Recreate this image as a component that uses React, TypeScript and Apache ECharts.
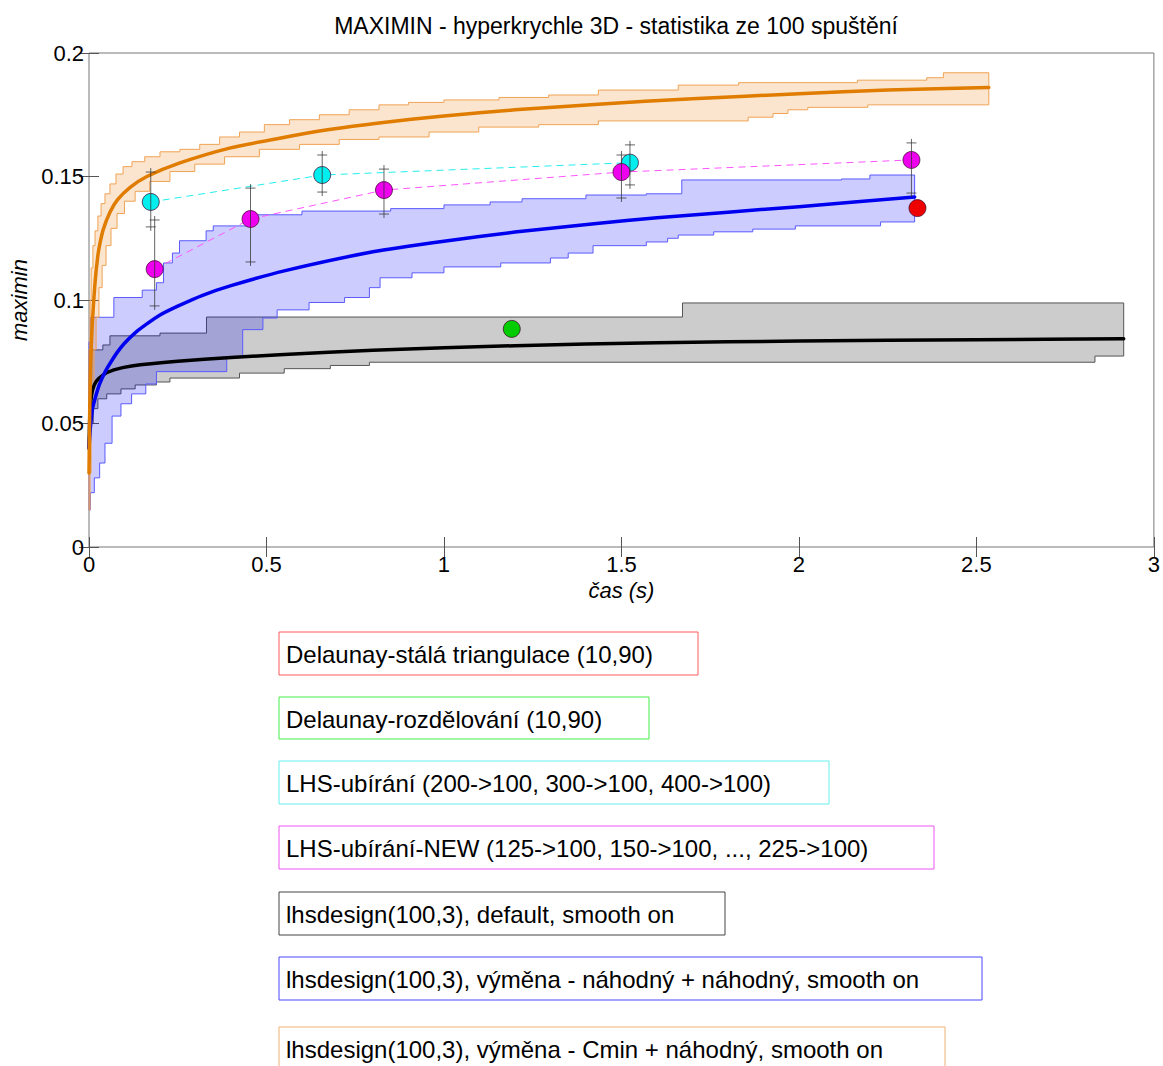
import React, { useEffect, useRef } from "react";
import * as echarts from "echarts";

const FONT = '"Liberation Sans", Arial, Helvetica, sans-serif';

const titleText = "MAXIMIN - hyperkrychle 3D - statistika ze 100 spuštění";
const xName = "čas (s)";
const yName = "maximin";

// legend labels
const legendLabels = [
  "Delaunay-stálá triangulace (10,90)",
  "Delaunay-rozdělování (10,90)",
  "LHS-ubírání (200->100, 300->100, 400->100)",
  "LHS-ubírání-NEW (125->100, 150->100, ..., 225->100)",
  "lhsdesign(100,3), default, smooth on",
  "lhsdesign(100,3), výměna - náhodný + náhodný, smooth on",
  "lhsdesign(100,3), výměna - Cmin + náhodný, smooth on",
];

// ---- orange: lhsdesign, výměna Cmin + náhodný ----
const orangeUpperX = [0, 0.003, 0.006, 0.011, 0.017, 0.025, 0.034, 0.045, 0.059, 0.076, 0.096, 0.121, 0.157, 0.2, 0.256, 0.312, 0.368, 0.424, 0.494, 0.565, 0.649, 0.733, 0.817, 0.9, 1.0, 1.155, 1.295, 1.435, 1.66, 1.83, 2.165, 2.36, 2.407];
const orangeUpperY = [0.08, 0.1, 0.113, 0.122, 0.128, 0.134, 0.139, 0.143, 0.147, 0.151, 0.154, 0.156, 0.158, 0.16, 0.161, 0.163, 0.166, 0.168, 0.171, 0.173, 0.175, 0.177, 0.179, 0.18, 0.181, 0.182, 0.183, 0.185, 0.187, 0.188, 0.189, 0.19, 0.192];
const orangeLowerX = [0, 0.003, 0.006, 0.008, 0.014, 0.02, 0.028, 0.037, 0.048, 0.062, 0.079, 0.1, 0.13, 0.171, 0.228, 0.298, 0.382, 0.48, 0.593, 0.705, 0.817, 0.958, 1.098, 1.267, 1.435, 1.857, 1.927, 1.969, 2.025, 2.194];
const orangeLowerY = [0.015, 0.03, 0.05, 0.065, 0.08, 0.093, 0.105, 0.114, 0.122, 0.129, 0.135, 0.14, 0.144, 0.148, 0.152, 0.155, 0.158, 0.161, 0.163, 0.165, 0.166, 0.168, 0.17, 0.171, 0.1725, 0.174, 0.1755, 0.177, 0.178, 0.179];
const orangeEnd = 2.535;
const orangeMeanX = [0, 0.002, 0.005, 0.009, 0.017, 0.025, 0.031, 0.04, 0.059, 0.08, 0.115, 0.163, 0.256, 0.396, 0.537, 0.677, 0.817, 1.0, 1.2, 1.435, 1.7, 2.0, 2.25, 2.535];
const orangeMeanY = [0.03, 0.055, 0.075, 0.09, 0.107, 0.118, 0.123, 0.1285, 0.1355, 0.1405, 0.1455, 0.15, 0.1555, 0.1615, 0.1655, 0.169, 0.1717, 0.1745, 0.177, 0.1793, 0.1815, 0.1835, 0.185, 0.186];

// ---- black/gray: lhsdesign default ----
const grayUpperX = [0, 0.039, 0.059, 0.2, 0.331, 1.672];
const grayUpperY = [0.0798, 0.0818, 0.0855, 0.0866, 0.0931, 0.0988];
const grayLowerX = [0, 0.004, 0.012, 0.025, 0.05, 0.09, 0.13, 0.19, 0.228, 0.424, 0.55, 0.68, 0.79, 2.834];
const grayLowerY = [0.035, 0.05, 0.056, 0.06, 0.062, 0.064, 0.0656, 0.0668, 0.0684, 0.0704, 0.0722, 0.0735, 0.0748, 0.0773];
const grayEnd = 2.915;
const blackMeanX = [0, 0.002, 0.005, 0.01, 0.02, 0.04, 0.07, 0.12, 0.25, 0.4, 0.55, 0.8, 1.2, 1.6, 2.0, 2.5, 2.915];
const blackMeanY = [0.04, 0.052, 0.059, 0.0635, 0.067, 0.0697, 0.0717, 0.0733, 0.0752, 0.0767, 0.0779, 0.0797, 0.0815, 0.0827, 0.0834, 0.0839, 0.0843];

// ---- blue: lhsdesign, výměna náhodný + náhodný ----
const blueUpperX = [0, 0.004, 0.07, 0.15, 0.19, 0.21, 0.235, 0.255, 0.33, 0.35, 0.455, 0.6, 0.85, 1.0, 1.13, 1.22, 1.4, 1.57, 1.67, 2.12, 2.2];
const blueUpperY = [0.083, 0.093, 0.101, 0.104, 0.107, 0.115, 0.119, 0.124, 0.128, 0.13, 0.1345, 0.136, 0.137, 0.1385, 0.1397, 0.141, 0.1425, 0.143, 0.1486, 0.149, 0.1506];
const blueLowerX = [0, 0.004, 0.015, 0.03, 0.045, 0.065, 0.09, 0.12, 0.16, 0.19, 0.388, 0.433, 0.49, 0.53, 0.62, 0.72, 0.79, 0.82, 0.91, 1.0, 1.16, 1.3, 1.35, 1.42, 1.57, 1.63, 1.66, 1.76, 1.87, 1.99, 2.23];
const blueLowerY = [0.015, 0.022, 0.028, 0.034, 0.042, 0.053, 0.058, 0.062, 0.066, 0.071, 0.077, 0.088, 0.0927, 0.096, 0.099, 0.101, 0.105, 0.109, 0.111, 0.1134, 0.115, 0.117, 0.119, 0.122, 0.1235, 0.125, 0.1263, 0.1276, 0.1287, 0.13, 0.1316];
const blueEnd = 2.326;
const blueMeanX = [0, 0.003, 0.01, 0.02, 0.03, 0.045, 0.06, 0.08, 0.1, 0.13, 0.16, 0.2, 0.25, 0.32, 0.4, 0.55, 0.8, 1.0, 1.2, 1.43, 1.6, 2.0, 2.326];
const blueMeanY = [0.04, 0.047, 0.056, 0.0615, 0.066, 0.0708, 0.0745, 0.0789, 0.0825, 0.0867, 0.09, 0.0939, 0.0975, 0.1019, 0.1058, 0.1118, 0.1195, 0.1238, 0.1275, 0.131, 0.1333, 0.1378, 0.1417];

// ---- point series ----
const redX = [2.334];
const redY = [0.1372];
const greenX = [1.191];
const greenY = [0.0883];
const cyanX = [0.174, 0.657, 1.524];
const cyanY = [0.1397, 0.1506, 0.1556];
const cyanLow = [0.1296, 0.1437, 0.1466];
const cyanHigh = [0.1518, 0.1587, 0.1628];
const magentaX = [0.185, 0.455, 0.831, 1.5, 2.317];
const magentaY = [0.1125, 0.1328, 0.1445, 0.1518, 0.1567];
const magentaLow = [0.0976, 0.1154, 0.1348, 0.1413, 0.1433];
const magentaHigh = [0.1324, 0.1453, 0.153, 0.1587, 0.1636];

const zip = (xs: number[], ys: number[]) => xs.map((x, i) => [x, ys[i]]);

function bandSeries(name: string, ux: number[], uy: number[], lx: number[], ly: number[], endX: number, fill: string, stroke: string) {
  return {
    type: "custom",
    name,
    z: 1,
    silent: true,
    data: [[0, 0]],
    renderItem: (_params: any, api: any) => {
      const pts: number[][] = [];
      for (let i = 0; i < ux.length; i++) {
        const x1 = i < ux.length - 1 ? ux[i + 1] : endX;
        pts.push(api.coord([ux[i], uy[i]]));
        pts.push(api.coord([x1, uy[i]]));
      }
      for (let i = lx.length - 1; i >= 0; i--) {
        const x1 = i < lx.length - 1 ? lx[i + 1] : endX;
        pts.push(api.coord([x1, ly[i]]));
        pts.push(api.coord([lx[i], ly[i]]));
      }
      return { type: "polygon", shape: { points: pts }, style: { fill, stroke, lineWidth: 1 } };
    },
  };
}

function meanSeries(name: string, xs: number[], ys: number[], color: string) {
  return {
    type: "line",
    name,
    z: 3,
    data: zip(xs, ys),
    showSymbol: false,
    smooth: 0.2,
    lineStyle: { color, width: 3.5, join: "round", cap: "round" },
    silent: true,
  };
}

function errorSeries(name: string, xs: number[], lows: number[], highs: number[]) {
  return {
    type: "custom",
    name,
    z: 7,
    silent: true,
    data: xs.map((x, i) => [x, lows[i], highs[i]]),
    encode: { x: 0, y: [1, 2] },
    renderItem: (_params: any, api: any) => {
      const x = api.value(0);
      const pLo = api.coord([x, api.value(1)]);
      const pHi = api.coord([x, api.value(2)]);
      const cap = 5;
      const ext = 4;
      const style = { stroke: "rgba(50,50,50,0.75)", lineWidth: 1 };
      return {
        type: "group",
        children: [
          { type: "line", shape: { x1: pHi[0], y1: pHi[1] - ext, x2: pLo[0], y2: pLo[1] + ext }, style },
          { type: "line", shape: { x1: pHi[0] - cap, y1: pHi[1], x2: pHi[0] + cap, y2: pHi[1] }, style },
          { type: "line", shape: { x1: pLo[0] - cap, y1: pLo[1], x2: pLo[0] + cap, y2: pLo[1] }, style },
        ],
      };
    },
  };
}

function pointSeries(name: string, xs: number[], ys: number[], color: string) {
  return {
    type: "scatter",
    name,
    z: 6,
    data: zip(xs, ys),
    symbol: "circle",
    symbolSize: 17,
    itemStyle: { color, borderColor: "rgba(60,0,40,0.7)", borderWidth: 1, opacity: 1 },
  };
}

function dashedSeries(name: string, xs: number[], ys: number[], color: string) {
  return {
    type: "line",
    name,
    z: 4,
    data: zip(xs, ys),
    showSymbol: false,
    lineStyle: { color, width: 1, type: [7, 5] },
    silent: true,
  };
}

// legend box geometry
const legendBoxes = [
  { y: 632, w: 419, h: 43, stroke: "#ff5a5a" },
  { y: 697, w: 370, h: 42, stroke: "#44ee44" },
  { y: 761, w: 550, h: 43, stroke: "#66eeee" },
  { y: 826, w: 655, h: 43, stroke: "#ee55ee" },
  { y: 892, w: 446, h: 43, stroke: "#444444" },
  { y: 957, w: 703, h: 43, stroke: "#4848ff" },
  { y: 1027, w: 666, h: 60, stroke: "#f0b070" },
];

export default function App() {
  const ref = useRef<HTMLDivElement>(null);
  useEffect(() => {
    if (!ref.current) return;
    const chart = echarts.init(ref.current, undefined, { renderer: "svg" });
    const axisLabel = { fontSize: 22, color: "#000", fontFamily: FONT };
    const tick = { inside: true, length: 10, lineStyle: { color: "#555", width: 1 } };
    const legendGraphics: any[] = [];
    legendBoxes.forEach((b, i) => {
      legendGraphics.push({
        type: "rect",
        shape: { x: 279, y: b.y, width: b.w, height: b.h },
        style: { fill: "#fff", stroke: b.stroke, lineWidth: 1 },
      });
      legendGraphics.push({
        type: "text",
        x: 286,
        y: b.y + 22,
        style: { text: legendLabels[i], fontSize: 24, fontFamily: FONT, fill: "#000", verticalAlign: "middle", align: "left" },
      });
    });
    chart.setOption({
      animation: false,
      backgroundColor: "#fff",
      grid: { left: 89, top: 53, width: 1068, height: 494, show: true, borderColor: "#777", borderWidth: 1, backgroundColor: "#fff" },
      xAxis: [
        {
          type: "value", min: 0, max: 3, interval: 0.5, position: "bottom",
          axisLine: { show: false }, axisTick: tick, splitLine: { show: false },
          axisLabel: { ...axisLabel, margin: 6 },
          name: xName, nameLocation: "middle", nameGap: 32,
          nameTextStyle: { fontSize: 22, fontStyle: "italic", fontFamily: FONT, color: "#000" },
        },
        {
          type: "value", min: 0, max: 3, interval: 0.5, position: "top",
          axisLine: { show: false }, axisTick: tick, splitLine: { show: false }, axisLabel: { show: false },
        },
      ],
      yAxis: [
        {
          type: "value", min: 0, max: 0.2, interval: 0.05, position: "left",
          axisLine: { show: false }, axisTick: tick, splitLine: { show: false },
          axisLabel: { ...axisLabel, margin: 5 },
          name: yName, nameLocation: "middle", nameGap: 54,
          nameTextStyle: { fontSize: 22, fontStyle: "italic", fontFamily: FONT, color: "#000" },
        },
        {
          type: "value", min: 0, max: 0.2, interval: 0.05, position: "right",
          axisLine: { show: false }, axisTick: tick, splitLine: { show: false }, axisLabel: { show: false },
        },
      ],
      graphic: [
        {
          type: "text", x: 616, y: 26,
          style: { text: titleText, fontSize: 23, fontFamily: FONT, fill: "#000", align: "center", verticalAlign: "middle" },
        },
        ...legendGraphics,
      ],
      series: [
        bandSeries(legendLabels[4] + " band", grayUpperX, grayUpperY, grayLowerX, grayLowerY, grayEnd, "rgba(0,0,0,0.2)", "#555"),
        bandSeries(legendLabels[5] + " band", blueUpperX, blueUpperY, blueLowerX, blueLowerY, blueEnd, "rgba(0,0,255,0.2)", "#5a5aff"),
        bandSeries(legendLabels[6] + " band", orangeUpperX, orangeUpperY, orangeLowerX, orangeLowerY, orangeEnd, "rgba(235,135,30,0.22)", "#f0a355"),
        meanSeries(legendLabels[4], blackMeanX, blackMeanY, "#000000"),
        meanSeries(legendLabels[5], blueMeanX, blueMeanY, "#0000f0"),
        meanSeries(legendLabels[6], orangeMeanX, orangeMeanY, "#e07c00"),
        dashedSeries(legendLabels[2] + " line", cyanX, cyanY, "#22eeee"),
        dashedSeries(legendLabels[3] + " line", magentaX, magentaY, "#ff55ff"),
        pointSeries(legendLabels[0], redX, redY, "#ee0000"),
        pointSeries(legendLabels[1], greenX, greenY, "#00cc00"),
        pointSeries(legendLabels[2], cyanX, cyanY, "#00eeee"),
        pointSeries(legendLabels[3], magentaX, magentaY, "#ee00ee"),
        errorSeries(legendLabels[2] + " err", cyanX, cyanLow, cyanHigh),
        errorSeries(legendLabels[3] + " err", magentaX, magentaLow, magentaHigh),
      ],
    });
    return () => chart.dispose();
  }, []);
  return (
    <div
      ref={ref}
      style={{ position: "absolute", left: 0, top: 0, width: 1163, height: 1066, background: "#fff" }}
    />
  );
}
